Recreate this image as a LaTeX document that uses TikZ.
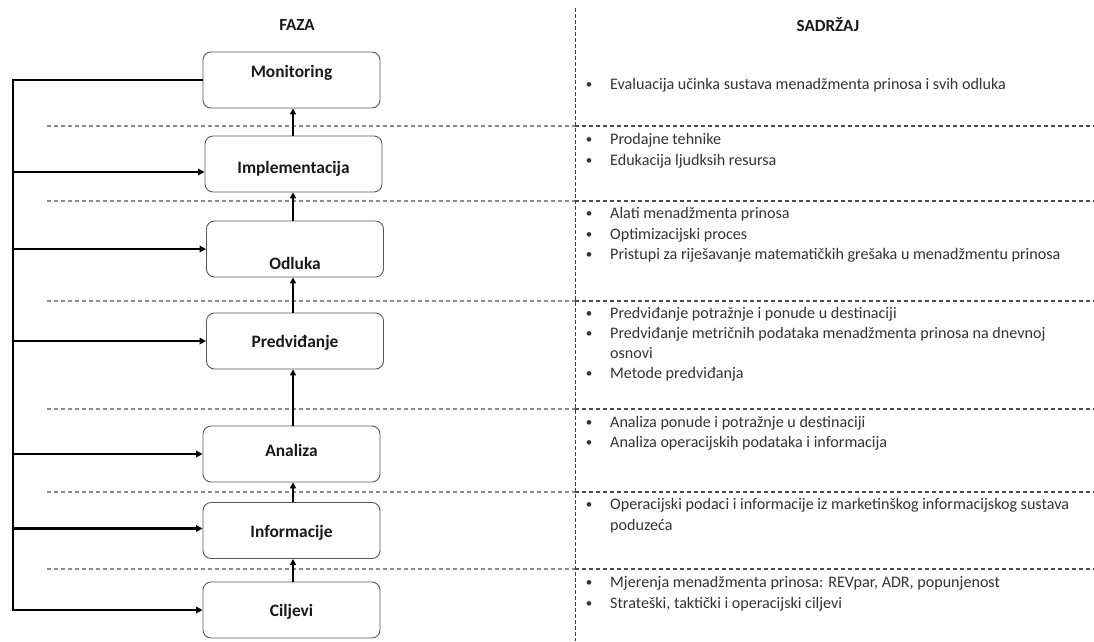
\documentclass[tikz,border=0pt]{standalone}
\usepackage{fontspec}
\setmainfont{Carlito}
\usetikzlibrary{arrows.meta,calc}
\begin{document}
\begin{tikzpicture}[x=1pt,y=-1pt,
  box/.style={draw=black!65, line width=0.9pt, rounded corners=8pt, minimum width=177pt, minimum height=56pt, inner sep=0pt},
  lbl/.style={font=\fontsize{17.4}{20}\selectfont\bfseries, text=black!90, inner sep=0pt, text height=12pt, text depth=4pt},
  head/.style={font=\fontsize{17}{20}\selectfont\bfseries, text=black!90, inner sep=0pt},
  flow/.style={line width=2.1pt, -{Triangle[length=6pt,width=6pt]}},
  fb/.style={line width=2.1pt, -{Triangle[length=6.5pt,width=6.5pt]}},
  sepl/.style={black!45, line width=1.2pt, dash pattern=on 4pt off 3pt},
  sepr/.style={black!70, line width=1.1pt, dash pattern=on 4pt off 3pt},
  sepv/.style={black!75, line width=1pt, dash pattern=on 3.5pt off 2.5pt},
  item/.style={anchor=west, inner sep=0pt, font=\fontsize{16.1}{18}\selectfont, text=black!80, text height=11pt, text depth=3.5pt},
  bul/.style={anchor=center, inner sep=0pt, font=\fontsize{13}{15}\selectfont, text=black!80}
]
\useasboundingbox (0,0) rectangle (1094,641);

% headings
\node[head] (faza) at (297,25) {FAZA};
\node[head] (sadrzaj) at (828,25) {SADRŽAJ};

% separators
\foreach \yy [count=\k] in {126,201,301,409,492,569}{
  \coordinate (sl\k) at (47,\yy);
  \coordinate (sm\k) at (575,\yy);
  \coordinate (sr\k) at (1094,\yy);
  \draw[sepl] (sl\k) -- (sm\k);
  \draw[sepr] (sm\k) -- (sr\k);
}
\coordinate (vtop) at (575,8);
\coordinate (vbot) at (575,641);
\draw[sepv] (vtop) -- (vbot);

% phase boxes
\node[box, label={[lbl,yshift=7pt,name=monT]center:Monitoring}] (mon) at (291.5,80) {};
\node[box, label={[lbl,yshift=-5pt,name=impT]center:Implementacija}] (imp) at (293.5,164) {};
\node[box, label={[lbl,yshift=-16pt,name=odlT]center:Odluka}] (odl) at (295,249) {};
\node[box, label={[lbl,yshift=-2pt,name=preT]center:Predviđanje}] (pre) at (295,341) {};
\node[box, label={[lbl,yshift=2pt,name=anaT]center:Analiza}] (ana) at (291.5,454) {};
\node[box, label={[lbl,yshift=-2.5pt,name=infT]center:Informacije}] (inf) at (291.5,530.5) {};
\node[box, label={[lbl,yshift=-2pt,name=cilT]center:Ciljevi}] (cil) at (291.5,610) {};

% upward flow
\coordinate (ax) at (293,0);
\draw[flow] (cil.north -| ax) -- (inf.south -| ax);
\draw[flow] (inf.north -| ax) -- (ana.south -| ax);
\draw[flow] (ana.north -| ax) -- (pre.south -| ax);
\draw[flow] (pre.north -| ax) -- (odl.south -| ax);
\draw[flow] (odl.north -| ax) -- (imp.south -| ax);
\draw[flow] (imp.north -| ax) -- (mon.south -| ax);

% feedback bus
\coordinate (bus) at (13,0);
\draw[fb] (mon.west) -- (mon.west -| bus) |- (cil.west);
\draw[fb] ($(imp.west -| bus)+(0,8)$) -- ($(imp.west)+(0,8)$);
\draw[fb] (odl.west -| bus) -- (odl.west);
\draw[fb] (pre.west -| bus) -- (pre.west);
\draw[fb] (ana.west -| bus) -- (ana.west);
\draw[fb] ($(inf.west -| bus)+(0,-2)$) -- ($(inf.west)+(0,-2)$);

% content items
\foreach \yy/\txt/\nm in {
  86/{Evaluacija učinka sustava menadžmenta prinosa i svih odluka}/c1,
  141/{Prodajne tehnike}/c2,
  162/{Edukacija ljudksih resursa}/c3,
  215/{Alati menadžmenta prinosa}/c4,
  236/{Optimizacijski proces}/c5,
  256/{Pristupi za riješavanje matematičkih grešaka u menadžmentu prinosa}/c6,
  315/{Predviđanje potražnje i ponude u destinaciji}/c7,
  335/{Predviđanje metričnih podataka menadžmenta prinosa na dnevnoj}/c8,
  375/{Metode predviđanja}/c9,
  424/{Analiza ponude i potražnje u destinaciji}/c10,
  444/{Analiza operacijskih podataka i informacija}/c11,
  506/{Operacijski podaci i informacije iz marketinškog informacijskog sustava}/c12,
  584/{Mjerenja menadžmenta prinosa: REVpar, ADR, popunjenost}/c13,
  605/{Strateški, taktički i operacijski ciljevi}/c14}{
  \node[bul] (b\nm) at (589,\yy) {•};
  \node[item] (\nm) at (610,\yy) {\txt};
}
\node[item] (c8b) at (610,355) {osnovi};
\node[item] (c12b) at (610,527) {poduzeća};

\end{tikzpicture}
\end{document}
